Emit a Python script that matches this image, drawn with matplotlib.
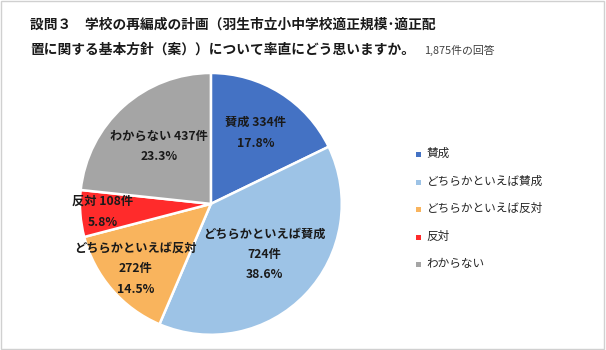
import numpy as np
import matplotlib
matplotlib.use("Agg")
import matplotlib.pyplot as plt
from matplotlib.patches import Rectangle

plt.rcParams['font.family'] = ['Noto Sans CJK JP', 'DejaVu Sans']

categories = ["賛成", "どちらかといえば賛成", "どちらかといえば反対", "反対", "わからない"]
counts = [334, 724, 272, 108, 437]
percents = [17.8, 38.6, 14.5, 5.8, 23.3]
label_texts = ["賛成 334件\n17.8%", "どちらかといえば賛成\n724件\n38.6%",
               "どちらかといえば反対\n272件\n14.5%", "反対 108件\n5.8%",
               "わからない 437件\n23.3%"]
colors = ["#4472C4", "#9DC3E6", "#F9B45D", "#FF2B2B", "#A5A5A5"]
label_r = [0.64, 0.56, 0.76, 0.83, 0.59]

title1 = "設問３　学校の再編成の計画（羽生市立小中学校適正規模･適正配"
title2 = "置に関する基本方針（案））について率直にどう思いますか。"
subtitle = "1,875件の回答"

fig = plt.figure(figsize=(6.06, 3.5), dpi=100)
fig.patch.set_facecolor("white")
fig.add_artist(Rectangle((0.002, 0.004), 0.995, 0.992, transform=fig.transFigure,
                         fill=False, edgecolor="#D0D0D0", linewidth=1.0))

ax = fig.add_axes([0.132, 0.043, 0.432, 0.749])
wedges, _ = ax.pie(counts, colors=colors, startangle=90, counterclock=False,
                   wedgeprops=dict(edgecolor="white", linewidth=1.8))
ax.set_xlim(-1, 1)
ax.set_ylim(-1, 1)
ax.set_aspect("equal")

for w, t, r in zip(wedges, label_texts, label_r):
    ang = np.deg2rad((w.theta1 + w.theta2) / 2)
    ax.text(r * np.cos(ang), r * np.sin(ang), t, ha="center", va="center",
            fontsize=8.8, fontweight="bold", linespacing=1.75, color="#1a1a1a")

fig.text(0.050, 0.929, title1, fontsize=9.9, fontweight="bold", color="#1a1a1a",
         ha="left", va="center")
t2 = fig.text(0.050, 0.857, title2, fontsize=9.9, fontweight="bold", color="#1a1a1a",
              ha="left", va="center")
fig.canvas.draw()
bb = t2.get_window_extent(renderer=fig.canvas.get_renderer())
x_sub = (bb.x1 + 9) / fig.bbox.width
fig.text(x_sub, 0.857, subtitle, fontsize=7.8, color="#404040", ha="left", va="center")

leg_y = [153, 181, 208, 236, 263]
for c, name, y in zip(colors, categories, leg_y):
    yf = 1 - y / 350
    fig.add_artist(Rectangle((0.686, yf - 0.011), 0.0085, 0.0145,
                             transform=fig.transFigure, facecolor=c, edgecolor="none"))
    fig.text(0.704, yf, name, fontsize=8.4, color="#262626", ha="left", va="center")

fig.savefig("out.png", dpi=100)
